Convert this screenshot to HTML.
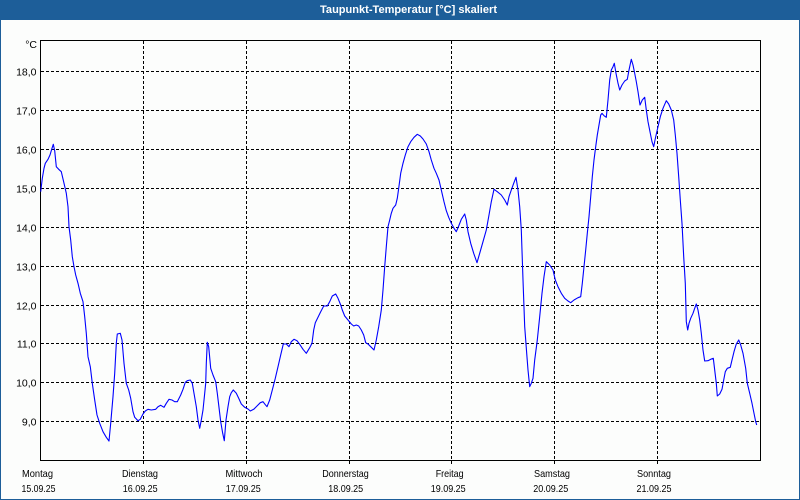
<!DOCTYPE html>
<html><head><meta charset="utf-8"><style>
html,body{margin:0;padding:0;background:#fff}
svg{display:block}
text{font-family:"Liberation Sans","DejaVu Sans",sans-serif}
</style></head><body>
<svg width="800" height="500" viewBox="0 0 800 500" xmlns="http://www.w3.org/2000/svg">
<rect x="0" y="0" width="800" height="500" fill="#1d5e99"/>
<rect x="1" y="20" width="798" height="479" fill="#fcfdfc"/>
<text x="408.5" y="13" font-size="11" font-weight="bold" fill="#ffffff" text-anchor="middle" textLength="177" lengthAdjust="spacingAndGlyphs">Taupunkt-Temperatur [°C] skaliert</text>

<g stroke="#000" stroke-width="1" stroke-dasharray="3,2" shape-rendering="crispEdges" fill="none">
<line x1="41" y1="71.5" x2="760" y2="71.5"/>
<line x1="41" y1="110.5" x2="760" y2="110.5"/>
<line x1="41" y1="149.5" x2="760" y2="149.5"/>
<line x1="41" y1="188.5" x2="760" y2="188.5"/>
<line x1="41" y1="227.5" x2="760" y2="227.5"/>
<line x1="41" y1="266.5" x2="760" y2="266.5"/>
<line x1="41" y1="305.5" x2="760" y2="305.5"/>
<line x1="41" y1="343.5" x2="760" y2="343.5"/>
<line x1="41" y1="382.5" x2="760" y2="382.5"/>
<line x1="41" y1="421.5" x2="760" y2="421.5"/>
<line x1="143.5" y1="41" x2="143.5" y2="464"/>
<line x1="246.5" y1="41" x2="246.5" y2="464"/>
<line x1="349.5" y1="41" x2="349.5" y2="464"/>
<line x1="451.5" y1="41" x2="451.5" y2="464"/>
<line x1="554.5" y1="41" x2="554.5" y2="464"/>
<line x1="657.5" y1="41" x2="657.5" y2="464"/>
</g>
<rect x="40.5" y="40.5" width="720" height="420" fill="none" stroke="#000" stroke-width="1" shape-rendering="crispEdges"/>

<g font-size="10.5" fill="#000" text-anchor="end">
<text x="37" y="48">°C</text>
<text x="36.5" y="75.5">18,0</text>
<text x="36.5" y="114.5">17,0</text>
<text x="36.5" y="153.5">16,0</text>
<text x="36.5" y="192.5">15,0</text>
<text x="36.5" y="231.5">14,0</text>
<text x="36.5" y="270.5">13,0</text>
<text x="36.5" y="309.5">12,0</text>
<text x="36.5" y="347.5">11,0</text>
<text x="36.5" y="386.5">10,0</text>
<text x="36.5" y="425.5">9,0</text>
</g>

<g font-size="10.5" fill="#000" text-anchor="middle">
<text x="37.5" y="477" textLength="31" lengthAdjust="spacingAndGlyphs">Montag</text>
<text x="140" y="477" textLength="36" lengthAdjust="spacingAndGlyphs">Dienstag</text>
<text x="244" y="477" textLength="37" lengthAdjust="spacingAndGlyphs">Mittwoch</text>
<text x="345.5" y="477" textLength="46.5" lengthAdjust="spacingAndGlyphs">Donnerstag</text>
<text x="449.7" y="477" textLength="28" lengthAdjust="spacingAndGlyphs">Freitag</text>
<text x="552" y="477" textLength="36" lengthAdjust="spacingAndGlyphs">Samstag</text>
<text x="654" y="477" textLength="34" lengthAdjust="spacingAndGlyphs">Sonntag</text>
<text x="38.5" y="492" textLength="34" lengthAdjust="spacingAndGlyphs">15.09.25</text>
<text x="140.2" y="492" textLength="35" lengthAdjust="spacingAndGlyphs">16.09.25</text>
<text x="243.3" y="492" textLength="35" lengthAdjust="spacingAndGlyphs">17.09.25</text>
<text x="345.7" y="492" textLength="35" lengthAdjust="spacingAndGlyphs">18.09.25</text>
<text x="448.2" y="492" textLength="35" lengthAdjust="spacingAndGlyphs">19.09.25</text>
<text x="550.8" y="492" textLength="35" lengthAdjust="spacingAndGlyphs">20.09.25</text>
<text x="654" y="492" textLength="35" lengthAdjust="spacingAndGlyphs">21.09.25</text>
</g>

<polyline fill="none" stroke="#0000ff" stroke-width="1.1" stroke-linejoin="round" points="
40.7,191.7 42.3,178.3 44,168.3 45.3,163.3 48,159.3 50,155 52,148.3 53.3,144.3 54.7,150.7 56.3,166.7 58.7,169.3 61.3,171.7 64,183.3 66.3,193.3 68,206.7 69,226.7 70.7,240 72.3,256.7 74,266.7 75.7,275 78,283.3 80.3,293.3 83,301.7 84.7,316.7 86.3,333.3 88,356.7 90.3,366.7 92.3,383.3 94.7,400 97,415 99.7,423.3 103,431.7 106.3,437.3 109,441 110.7,423.3 113,396.7 114.7,373.3 116.3,343.3 117.3,334 120.3,333.3 122,340 124,363.3 126.3,383.3 128.7,390 130.7,398.3 133,411.7 134.7,417.3 138,420.7 140.3,419.3 143,414 145.3,411 148,409.3 151.3,410 155.7,409.3 158,406.7 160.7,405.3 164,407.3 166.3,403.3 169,399.3 172,400 174.7,401.7 177.3,401.7 180.7,395 183,389.3 185.3,382.3 187.3,380.7 190.3,380 192.3,383.3 194,393.3 196.3,406.7 198,420 199.7,428.3 201.3,420 203,410 204.7,393.3 205.7,383.3 206.3,363.3 207.3,342.3 208.7,346.7 210.7,368.3 213,375 215.7,381.7 217.3,393.3 218.7,405 220.7,421.7 222.7,433.3 224.3,440.7 226,420 228,406.7 229.7,396.7 231.3,392.7 233.3,390 236.3,393.3 238.7,398.3 241.3,404 244.7,407.3 248,409 250.3,411 253.7,409.3 257,406 260.3,402.7 263,401.7 265,404.3 267,406.7 269.7,400 272.3,390 275.3,378.3 278,366.7 280.7,355 283.3,344 286.3,344 289,346.7 291.3,341.7 294,339.3 297,340.7 299.7,344.3 303,349.3 306.3,353.3 309.7,347.7 312,343.3 313.7,330 315.3,322.7 318,317.3 320.7,311.7 323.7,306 327.3,306 329.7,301.7 332.3,296 335.7,294 338,298.3 340.7,305 342.3,310 344.7,316 348,320 351.3,324 353.7,326 356.3,325 358.7,326 361.3,330 363.7,335 365.7,342.7 368,344 370.7,346.7 374,350 376.3,340 378.7,326.7 381.3,310 383,290 384.7,266.7 386.3,246.7 388,226.7 389.7,220 391.3,213.3 393,208.3 395.7,205 397.3,198.3 398.7,188.3 400.7,173.3 403,163.3 405.3,155 408,146.7 410.7,141.7 414,137.3 417.3,134.3 420.3,136 423,139 426.3,144 429,151.7 431.3,160 434,168.3 436.3,173.3 439,180 441.3,190 444,201.7 446.3,210.7 448.7,217.3 451.3,223.3 454,228.3 456.3,231.7 458.7,226 461.3,219.3 464.7,214 466.3,220 468,231.7 470.7,243.3 473.7,253.3 477,262.7 479.7,253.3 483,241.7 486.3,230 488.7,216.7 491.3,201.7 494,189.3 497.3,191.7 501.3,195 504.7,200 507.3,205 509,196.7 511.3,190 513.7,183.3 516,177.3 518,190 519.7,206.7 521.3,230 523,280 524.7,326.7 526.7,353.3 528,370 529.7,386.7 531.3,383.3 533,378.3 534.7,360 537.3,340 539.7,316.7 542,293.3 544,276.7 546.3,261.7 549.7,265 553,270 555.3,280 558,286.7 561.3,293.3 564.7,298.3 568,301 570.7,302.7 574,300 578,297.7 580.7,296.7 582.3,283.3 584,266.7 585.7,250 587.3,233.3 589,216.7 590.7,196.7 592.3,176.7 594,160 595.7,146.7 597.3,135 599,125 600.7,115 602,113.3 604,115.7 606.3,117.3 608,100 609.7,80 611.3,70 613,66.7 614.3,63.3 616,73.3 618,83.3 619.7,90 622,85 624.7,81 627.3,79.3 629,70 631.3,59.3 633,65 634.7,73.3 636.3,81.7 638,91.7 640,105 642.3,100 644.7,97.3 646.3,110 648,121.7 650.3,133.3 652,141.7 653.7,146.7 655.7,136.7 658,126.7 660.3,116.7 663,108.3 666.3,100.7 668.7,104 671.3,110 673.7,120 675.3,135 677,153.3 678.7,176.7 680.3,200 682,223.3 683.7,256.7 685.3,283.3 686.3,321.7 687.7,330 689,323.3 690.7,318.3 693,313.3 694.7,308.3 696.3,304 698,310 699.7,320 701.3,333.3 703,350 704.7,361 708,360.7 711.3,359 713.3,358.3 714.7,370 716.3,383.3 717.3,396 719.7,394 722,389.3 723.7,380 725.3,371.7 727.3,368.3 730.3,367.3 732,360 734,351.7 736.3,344 738.7,340 740.7,345 743,353.3 745.7,368.3 747.3,383.3 749.7,393.3 752,403.3 754,413.3 755.7,421.7 756.7,425"/>
</svg>
</body></html>
